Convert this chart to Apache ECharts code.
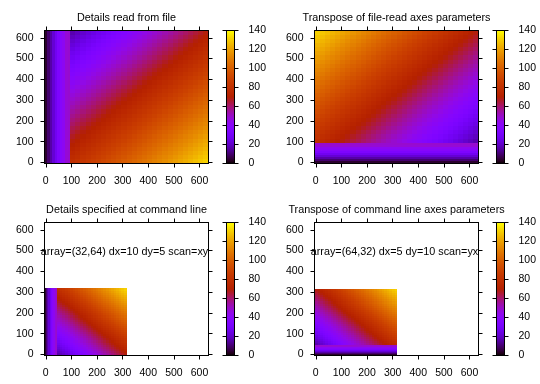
<!DOCTYPE html>
<html><head><meta charset="utf-8">
<script src="https://cdn.jsdelivr.net/npm/echarts@6/dist/echarts.min.js"></script>
<style>html,body{margin:0;padding:0;background:#fff}#c{width:540px;height:384px}</style>
</head><body><div id="c"></div>
<script>
// ---------- data ----------
const panelTitles = [
  'Details read from file',
  'Transpose of file-read axes parameters',
  'Details specified at command line',
  'Transpose of command line axes parameters'
];
const panelNotes = ['', '', 'array=(32,64) dx=10 dy=5 scan=xy', 'array=(64,32) dx=5 dy=10 scan=yx'];
const axisTickValues = [0, 100, 200, 300, 400, 500, 600];
const axisRange = [-5, 635];
const cbRange = [0, 140];
const cbStep = 20;
// values of the narrow stripe columns at the start of the array (constant along the rows)
const stripeValues = [4, 10, 16, 22, 28, 34, 39, 42, 48, 49];
// values of the main gradient part, one list per row (base orientation: command-line scan=xy)
const gradientRows = [
  [17,19,21,23,25,27,29,31,33,35,37,39,41,43,45,47,49,51,53,55,57,59,61,63,65,67,69],
  [19,21,23,25,27,29,31,33,35,37,39,41,43,45,47,49,51,53,55,57,59,61,63,65,67,69,71],
  [21,23,25,27,29,31,33,35,37,39,41,43,45,47,49,51,53,55,57,59,61,63,65,67,69,71,73],
  [23,25,27,29,31,33,35,37,39,41,43,45,47,49,51,53,55,57,59,61,63,65,67,69,71,73,75],
  [25,27,29,31,33,35,37,39,41,43,45,47,49,51,53,55,57,59,61,63,65,67,69,71,73,75,77],
  [27,29,31,33,35,37,39,41,43,45,47,49,51,53,55,57,59,61,63,65,67,69,71,73,75,77,79],
  [29,31,33,35,37,39,41,43,45,47,49,51,53,55,57,59,61,63,65,67,69,71,73,75,77,79,81],
  [31,33,35,37,39,41,43,45,47,49,51,53,55,57,59,61,63,65,67,69,71,73,75,77,79,81,83],
  [33,35,37,39,41,43,45,47,49,51,53,55,57,59,61,63,65,67,69,71,73,75,77,79,81,83,85],
  [35,37,39,41,43,45,47,49,51,53,55,57,59,61,63,65,67,69,71,73,75,77,79,81,83,85,87],
  [37,39,41,43,45,47,49,51,53,55,57,59,61,63,65,67,69,71,73,75,77,79,81,83,85,87,89],
  [39,41,43,45,47,49,51,53,55,57,59,61,63,65,67,69,71,73,75,77,79,81,83,85,87,89,91],
  [41,43,45,47,49,51,53,55,57,59,61,63,65,67,69,71,73,75,77,79,81,83,85,87,89,91,93],
  [43,45,47,49,51,53,55,57,59,61,63,65,67,69,71,73,75,77,79,81,83,85,87,89,91,93,95],
  [45,47,49,51,53,55,57,59,61,63,65,67,69,71,73,75,77,79,81,83,85,87,89,91,93,95,97],
  [47,49,51,53,55,57,59,61,63,65,67,69,71,73,75,77,79,81,83,85,87,89,91,93,95,97,99],
  [49,51,53,55,57,59,61,63,65,67,69,71,73,75,77,79,81,83,85,87,89,91,93,95,97,99,101],
  [51,53,55,57,59,61,63,65,67,69,71,73,75,77,79,81,83,85,87,89,91,93,95,97,99,101,103],
  [53,55,57,59,61,63,65,67,69,71,73,75,77,79,81,83,85,87,89,91,93,95,97,99,101,103,105],
  [55,57,59,61,63,65,67,69,71,73,75,77,79,81,83,85,87,89,91,93,95,97,99,101,103,105,107],
  [57,59,61,63,65,67,69,71,73,75,77,79,81,83,85,87,89,91,93,95,97,99,101,103,105,107,109],
  [59,61,63,65,67,69,71,73,75,77,79,81,83,85,87,89,91,93,95,97,99,101,103,105,107,109,111],
  [61,63,65,67,69,71,73,75,77,79,81,83,85,87,89,91,93,95,97,99,101,103,105,107,109,111,113],
  [63,65,67,69,71,73,75,77,79,81,83,85,87,89,91,93,95,97,99,101,103,105,107,109,111,113,115],
  [65,67,69,71,73,75,77,79,81,83,85,87,89,91,93,95,97,99,101,103,105,107,109,111,113,115,117],
  [67,69,71,73,75,77,79,81,83,85,87,89,91,93,95,97,99,101,103,105,107,109,111,113,115,117,119],
  [69,71,73,75,77,79,81,83,85,87,89,91,93,95,97,99,101,103,105,107,109,111,113,115,117,119,121],
  [71,73,75,77,79,81,83,85,87,89,91,93,95,97,99,101,103,105,107,109,111,113,115,117,119,121,123],
  [73,75,77,79,81,83,85,87,89,91,93,95,97,99,101,103,105,107,109,111,113,115,117,119,121,123,125],
  [75,77,79,81,83,85,87,89,91,93,95,97,99,101,103,105,107,109,111,113,115,117,119,121,123,125,127],
  [77,79,81,83,85,87,89,91,93,95,97,99,101,103,105,107,109,111,113,115,117,119,121,123,125,127,129],
  [79,81,83,85,87,89,91,93,95,97,99,101,103,105,107,109,111,113,115,117,119,121,123,125,127,129,131]
];

// ---------- layout / style ----------
const FONT = "'Liberation Sans', Arial, Helvetica, sans-serif";
const plotBoxes = [
  {left: 44.5, top: 30.5}, {left: 314.5, top: 30.5},
  {left: 44.5, top: 222.5}, {left: 314.5, top: 222.5}
];
const PW = 164, PH = 133, CB_OFF = 182, CBW = 8;
const TICK_FS = 10.5, TITLE_FS = 10.8;
const noteAt = [307, 495];
// base cell geometry (command-line scan=xy layout)
const STRIPE_X0 = -5, STRIPE_W = 5, GRAD_X0 = 45, CELL_W = 10, ROW_Y0 = -2.5, CELL_H = 10;
const ROWS_TOP = ROW_Y0 + CELL_H * gradientRows.length;
// how each panel reads the same array
const transforms = [
  (x, y) => [2 * x + 5, 630 - 2 * y],   // file-read
  (x, y) => [630 - 2 * y, 2 * x + 5],   // transpose of file-read
  (x, y) => [x, y],                     // command line scan=xy
  (x, y) => [y, x]                      // command line scan=yx
];

// gnuplot default palette (rgbformulae 7,5,15)
function gpColor(t) {
  const r = Math.sqrt(t), g = t * t * t, b = Math.max(0, Math.sin(2 * Math.PI * t));
  const c = v => Math.round(Math.min(1, Math.max(0, v)) * 255);
  return 'rgb(' + c(r) + ',' + c(g) + ',' + c(b) + ')';
}
const NSTOP = 96;
const paletteColors = [];
for (let i = 0; i <= NSTOP; i++) paletteColors.push(gpColor(i / NSTOP));
const gradStops = paletteColors.map((c, i) => ({offset: i / NSTOP, color: c}));

// ---------- build cells ----------
const cells = [];
stripeValues.forEach((v, k) => cells.push([STRIPE_X0 + STRIPE_W * k, ROW_Y0, STRIPE_X0 + STRIPE_W * (k + 1), ROWS_TOP, v]));
gradientRows.forEach((row, r) => row.forEach((v, c) => cells.push([
  GRAD_X0 + CELL_W * c, ROW_Y0 + CELL_H * r, GRAD_X0 + CELL_W * (c + 1), ROW_Y0 + CELL_H * (r + 1), v])));

function makeRender(t) {
  return function (params, api) {
    const a = t(api.value(0), api.value(1)), b = t(api.value(2), api.value(3));
    const p = api.coord(a), q = api.coord(b);
    const x0 = Math.round(Math.min(p[0], q[0])), x1 = Math.round(Math.max(p[0], q[0]));
    const y0 = Math.round(Math.min(p[1], q[1])), y1 = Math.round(Math.max(p[1], q[1]));
    return {type: 'rect', shape: {x: x0, y: y0, width: x1 - x0, height: y1 - y0},
      style: {fill: api.visual('color')}};
  };
}
function cbRender(params, api) {
  const p = api.coord([0, api.value(0)]), q = api.coord([1, api.value(1)]);
  return {type: 'rect', shape: {x: p[0], y: q[1], width: q[0] - p[0], height: p[1] - q[1]},
    style: {fill: new echarts.graphic.LinearGradient(0, 1, 0, 0, gradStops)}};
}
function noteRender(params, api) {
  const p = api.coord([api.value(0), api.value(1)]);
  return {type: 'text', x: p[0], y: p[1], z2: 100,
    style: {text: panelNotes[params.seriesIndex - 6], align: 'center', verticalAlign: 'middle',
      fontSize: TITLE_FS, fontFamily: FONT, fill: '#000'}};
}

const lineStyle = {color: '#000', width: 1};
const grids = [], xAxes = [], yAxes = [], series = [], graphics = [];
function valAxis(g, pos, labels, range, isY, margin) {
  const ax = {
    gridIndex: g, type: 'value', position: pos, min: range[0], max: range[1], z: 10,
    axisLine: {show: true, onZero: false, lineStyle},
    axisTick: {show: true, inside: false, length: 4, lineStyle},
    axisLabel: {show: labels, margin: margin, color: '#000', fontSize: TICK_FS, fontFamily: FONT},
    splitLine: {show: false}, silent: true
  };
  return ax;
}
// plot grids 0..3
plotBoxes.forEach((b, g) => {
  grids.push({left: b.left, top: b.top, width: PW, height: PH});
});
// colorbar grids 4..7
plotBoxes.forEach((b) => {
  grids.push({left: b.left + CB_OFF, top: b.top, width: CBW, height: PH});
});
plotBoxes.forEach((b, g) => {
  ['bottom', 'top'].forEach(pos => {
    const ax = valAxis(g, pos, pos === 'bottom', axisRange, false, 12);
    ax.axisTick.customValues = axisTickValues;
    ax.axisLabel.customValues = axisTickValues;
    xAxes.push(ax);
  });
  ['left', 'right'].forEach(pos => {
    const ax = valAxis(g, pos, pos === 'left', axisRange, true, 11);
    ax.axisTick.customValues = axisTickValues;
    ax.axisLabel.customValues = axisTickValues;
    yAxes.push(ax);
  });
});
plotBoxes.forEach((b, k) => {
  ['bottom', 'top'].forEach(pos => {
    const ax = valAxis(4 + k, pos, false, [0, 1], false, 8);
    ax.axisTick.show = false;
    xAxes.push(ax);
  });
  ['left', 'right'].forEach(pos => {
    const ax = valAxis(4 + k, pos, pos === 'right', cbRange, true, 14);
    ax.interval = cbStep;
    yAxes.push(ax);
  });
});
// heat series 0..3
plotBoxes.forEach((b, g) => {
  series.push({type: 'custom', xAxisIndex: 2 * g, yAxisIndex: 2 * g, renderItem: makeRender(transforms[g]),
    data: cells, clip: true, silent: true, z: 2});
});
// colorbar series 4..7
plotBoxes.forEach((b, k) => {
  series.push({type: 'custom', xAxisIndex: 8 + 2 * k, yAxisIndex: 8 + 2 * k, renderItem: cbRender,
    data: [[cbRange[0], cbRange[1]]], silent: true, z: 2});
});
// note labels => series 8, 9 (index - 6 maps into panelNotes 2,3)
[2, 3].forEach(g => {
  series.push({type: 'custom', xAxisIndex: 2 * g, yAxisIndex: 2 * g, renderItem: noteRender,
    data: [noteAt], clip: false, silent: true, z: 20});
});
// titles
plotBoxes.forEach((b, g) => {
  graphics.push({type: 'text', x: b.left + PW / 2, y: b.top - 12, z: 30,
    style: {text: panelTitles[g], align: 'center', verticalAlign: 'middle', fontSize: TITLE_FS,
      fontFamily: FONT, fill: '#000'}});
});

const chart = echarts.init(document.getElementById('c'), null, {renderer: 'canvas'});
chart.setOption({
  animation: false,
  backgroundColor: '#fff',
  grid: grids, xAxis: xAxes, yAxis: yAxes,
  visualMap: {type: 'continuous', show: false, min: cbRange[0], max: cbRange[1], dimension: 4,
    seriesIndex: [0, 1, 2, 3], inRange: {color: paletteColors}},
  series: series,
  graphic: graphics
});
</script></body></html>
